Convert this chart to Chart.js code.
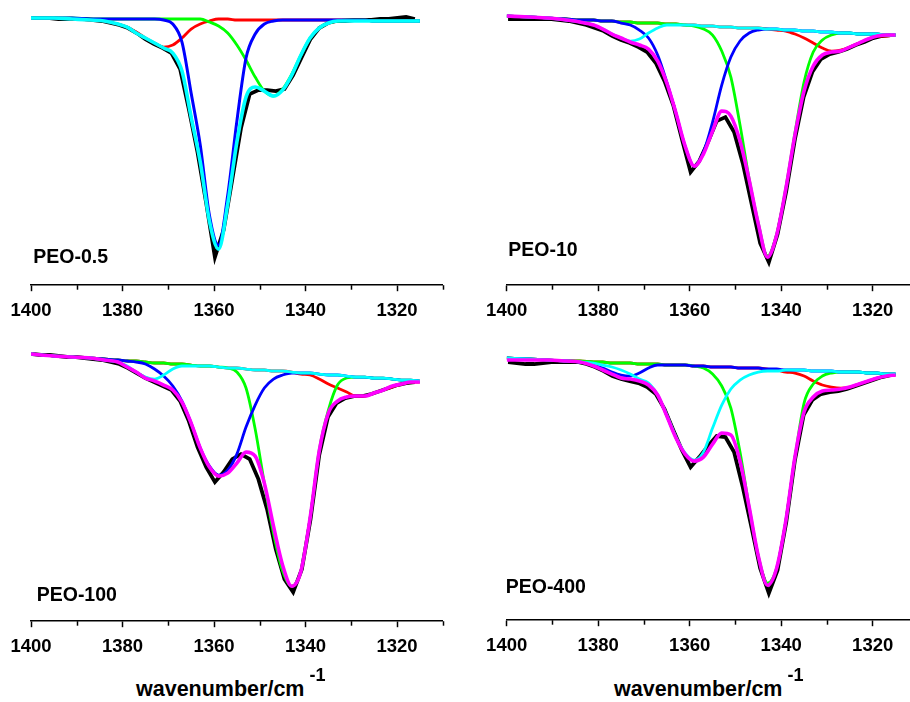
<!DOCTYPE html>
<html>
<head>
<meta charset="utf-8">
<title>PEO band deconvolution</title>
<script src="https://cdn.jsdelivr.net/npm/chart.js"></script>
<style>
  html, body { margin: 0; padding: 0; background: #fff; }
  #page { position: relative; width: 910px; height: 702px; overflow: hidden; }
  #page canvas { position: absolute; }
  .xtitle {
    position: absolute; top: 679px; color: #000; white-space: nowrap;
    font: bold 21.5px 'Liberation Sans', Arial, sans-serif; line-height: 21.5px;
  }
  .xtitle sup { font-size: 18px; vertical-align: baseline; position: relative; top: -15px; margin-left: 5px; }
</style>
</head>
<body>
<div id="page">
  <canvas id="peo05" width="476" height="331" style="left:0;top:0"></canvas>
  <canvas id="peo10" width="476" height="331" style="left:476px;top:0"></canvas>
  <canvas id="peo100" width="476" height="331" style="left:0;top:336px"></canvas>
  <canvas id="peo400" width="476" height="331" style="left:476px;top:335px"></canvas>
  <div class="xtitle" style="left:136px">wavenumber/cm<sup>-1</sup></div>
  <div class="xtitle" style="left:614px">wavenumber/cm<sup>-1</sup></div>
</div>
<script>
// wavenumbers (cm-1) of the fitted curves and of the measured spectrum
const fitWavenumber = [1400, 1395, 1391, 1387, 1384, 1381, 1379, 1377, 1375, 1373, 1371, 1369, 1367, 1365, 1363,
  1361, 1359, 1357, 1355, 1353, 1351, 1349, 1347, 1345, 1343, 1341, 1339, 1337, 1335, 1333, 1331, 1329, 1327,
  1325, 1323, 1321, 1319, 1317, 1315];
const dataWavenumber = [1399.7, 1397.8, 1395.9, 1394.0, 1392.1, 1390.2, 1388.3, 1386.4, 1384.5, 1382.6, 1380.7,
  1378.8, 1376.9, 1375.0, 1373.1, 1371.2, 1369.3, 1367.4, 1365.5, 1363.6, 1361.7, 1359.8, 1357.9, 1356.0, 1354.1,
  1352.2, 1350.3, 1348.4, 1346.5, 1344.6, 1342.7, 1340.8, 1338.9, 1337.0, 1335.1, 1333.2, 1331.3, 1329.4, 1327.5,
  1325.6, 1323.7, 1321.8, 1319.9, 1318.0, 1316.1];

const majorTicks = [1400, 1380, 1360, 1340, 1320];
const minorTicks = [1390, 1370, 1350, 1330, 1310];

// PEO-0.5
const peo05Data = [2.67, 2.67, 2.67, 2.66, 2.66, 2.66, 2.66, 2.65, 2.64, 2.62, 2.60, 2.57, 2.52, 2.46, 2.41, 2.37,
  2.32, 2.16, 1.76, 1.33, 0.82, 0.28, 0.55, 1.06, 1.57, 1.91, 1.95, 1.95, 1.94, 1.96, 2.10, 2.28, 2.46, 2.57, 2.62,
  2.64, 2.64, 2.65, 2.65, 2.65, 2.66, 2.66, 2.67, 2.68, 2.66];
const peo05Fit = [2.67, 2.67, 2.66, 2.65, 2.64, 2.61, 2.58, 2.52, 2.47, 2.42, 2.37, 2.32, 2.14, 1.68, 1.23, 0.64,
  0.36, 0.81, 1.43, 1.88, 1.98, 1.94, 1.89, 1.95, 2.10, 2.30, 2.47, 2.57, 2.62, 2.64, 2.64, 2.64, 2.64, 2.64, 2.64,
  2.64, 2.64, 2.64, 2.64];
const peo05Red = [2.67, 2.67, 2.66, 2.65, 2.64, 2.61, 2.58, 2.53, 2.47, 2.42, 2.38, 2.40, 2.47, 2.56, 2.61, 2.64,
  2.66, 2.66, 2.65, 2.65, 2.65, 2.65, 2.65, 2.65, 2.65, 2.65, 2.65, 2.65, 2.65, 2.65, 2.65, 2.65, 2.65, 2.64, 2.64,
  2.64, 2.64, 2.64, 2.64];
const peo05Blue = [2.67, 2.67, 2.67, 2.66, 2.66, 2.66, 2.66, 2.66, 2.66, 2.66, 2.65, 2.61, 2.43, 1.92, 1.40, 0.70,
  0.40, 0.90, 1.64, 2.27, 2.51, 2.61, 2.64, 2.65, 2.65, 2.65, 2.65, 2.65, 2.65, 2.65, 2.65, 2.65, 2.65, 2.64, 2.64,
  2.64, 2.64, 2.64, 2.64];
const peo05Green = [2.67, 2.67, 2.67, 2.66, 2.66, 2.66, 2.66, 2.66, 2.66, 2.66, 2.66, 2.66, 2.66, 2.66, 2.66, 2.63,
  2.59, 2.52, 2.40, 2.25, 2.08, 1.94, 1.89, 1.96, 2.11, 2.30, 2.47, 2.57, 2.62, 2.64, 2.65, 2.65, 2.65, 2.64, 2.64,
  2.64, 2.64, 2.64, 2.64];

// PEO-10
const peo10Data = [2.66, 2.66, 2.66, 2.66, 2.66, 2.66, 2.65, 2.64, 2.62, 2.60, 2.57, 2.54, 2.49, 2.45, 2.42, 2.38,
  2.33, 2.22, 2.04, 1.80, 1.46, 1.13, 1.24, 1.43, 1.64, 1.68, 1.53, 1.22, 0.82, 0.42, 0.23, 0.51, 0.94, 1.46, 1.88,
  2.13, 2.26, 2.31, 2.33, 2.36, 2.40, 2.43, 2.47, 2.49, 2.50];
const peo10Fit = [2.69, 2.68, 2.67, 2.65, 2.63, 2.60, 2.56, 2.51, 2.47, 2.43, 2.40, 2.36, 2.24, 2.02, 1.72, 1.39,
  1.19, 1.31, 1.54, 1.74, 1.69, 1.44, 1.05, 0.61, 0.28, 0.50, 0.96, 1.50, 1.94, 2.19, 2.30, 2.33, 2.34, 2.38, 2.42,
  2.46, 2.49, 2.50, 2.50];
const peo10Cyan = [2.69, 2.68, 2.67, 2.65, 2.63, 2.60, 2.56, 2.51, 2.47, 2.44, 2.46, 2.52, 2.57, 2.60, 2.60, 2.60,
  2.60, 2.59, 2.59, 2.58, 2.58, 2.57, 2.57, 2.57, 2.56, 2.56, 2.55, 2.55, 2.54, 2.54, 2.53, 2.53, 2.52, 2.52, 2.51,
  2.51, 2.51, 2.50, 2.50];
const peo10Blue = [2.69, 2.68, 2.67, 2.66, 2.65, 2.65, 2.64, 2.64, 2.62, 2.60, 2.55, 2.47, 2.30, 2.03, 1.72, 1.39,
  1.19, 1.33, 1.63, 2.00, 2.28, 2.44, 2.52, 2.55, 2.56, 2.56, 2.55, 2.55, 2.54, 2.54, 2.53, 2.53, 2.52, 2.52, 2.51,
  2.51, 2.51, 2.50, 2.50];
const peo10Green = [2.69, 2.68, 2.67, 2.66, 2.65, 2.65, 2.64, 2.64, 2.63, 2.63, 2.62, 2.62, 2.62, 2.61, 2.61, 2.60,
  2.59, 2.56, 2.50, 2.34, 2.08, 1.60, 1.06, 0.62, 0.29, 0.51, 0.97, 1.52, 2.03, 2.33, 2.45, 2.50, 2.52, 2.52, 2.51,
  2.51, 2.51, 2.50, 2.50];
const peo10Red = [2.69, 2.68, 2.67, 2.66, 2.65, 2.65, 2.64, 2.64, 2.63, 2.63, 2.62, 2.62, 2.62, 2.61, 2.61, 2.60,
  2.60, 2.59, 2.59, 2.58, 2.58, 2.57, 2.57, 2.57, 2.56, 2.55, 2.54, 2.51, 2.47, 2.42, 2.37, 2.34, 2.35, 2.38, 2.42,
  2.46, 2.49, 2.49, 2.50];

// PEO-100
const peo100Data = [2.67, 2.66, 2.66, 2.65, 2.64, 2.64, 2.63, 2.62, 2.61, 2.59, 2.57, 2.53, 2.48, 2.43, 2.39, 2.35,
  2.31, 2.20, 2.00, 1.74, 1.54, 1.39, 1.49, 1.62, 1.67, 1.62, 1.42, 1.12, 0.72, 0.42, 0.29, 0.52, 1.02, 1.66, 2.04,
  2.18, 2.23, 2.25, 2.25, 2.27, 2.30, 2.33, 2.36, 2.38, 2.39];
const peo100Fit = [2.67, 2.65, 2.64, 2.63, 2.61, 2.59, 2.54, 2.49, 2.43, 2.40, 2.36, 2.31, 2.19, 1.98, 1.73, 1.54,
  1.45, 1.48, 1.58, 1.69, 1.65, 1.38, 0.95, 0.56, 0.35, 0.50, 1.03, 1.70, 2.08, 2.20, 2.24, 2.25, 2.25, 2.28, 2.31,
  2.35, 2.37, 2.39, 2.39];
const peo100Cyan = [2.67, 2.65, 2.64, 2.63, 2.61, 2.59, 2.55, 2.49, 2.44, 2.42, 2.46, 2.52, 2.55, 2.55, 2.55, 2.55,
  2.54, 2.53, 2.53, 2.52, 2.51, 2.51, 2.50, 2.50, 2.49, 2.48, 2.48, 2.47, 2.46, 2.46, 2.45, 2.44, 2.44, 2.43, 2.43,
  2.42, 2.41, 2.41, 2.40];
const peo100Blue = [2.67, 2.65, 2.64, 2.63, 2.62, 2.61, 2.60, 2.59, 2.57, 2.52, 2.45, 2.35, 2.20, 1.98, 1.73, 1.55,
  1.46, 1.51, 1.67, 1.94, 2.16, 2.33, 2.42, 2.46, 2.48, 2.48, 2.48, 2.47, 2.46, 2.46, 2.45, 2.44, 2.44, 2.43, 2.43,
  2.42, 2.41, 2.41, 2.40];
const peo100Green = [2.67, 2.65, 2.64, 2.63, 2.62, 2.61, 2.60, 2.60, 2.59, 2.58, 2.58, 2.57, 2.57, 2.56, 2.55, 2.55,
  2.54, 2.53, 2.49, 2.33, 1.92, 1.38, 0.88, 0.50, 0.35, 0.50, 1.03, 1.71, 2.11, 2.36, 2.43, 2.44, 2.44, 2.43, 2.43,
  2.42, 2.41, 2.41, 2.40];
const peo100Red = [2.67, 2.65, 2.64, 2.63, 2.62, 2.61, 2.60, 2.60, 2.59, 2.58, 2.58, 2.57, 2.57, 2.56, 2.55, 2.55,
  2.54, 2.53, 2.53, 2.52, 2.51, 2.51, 2.50, 2.50, 2.49, 2.47, 2.46, 2.42, 2.37, 2.33, 2.29, 2.25, 2.25, 2.28, 2.31,
  2.34, 2.37, 2.39, 2.39];

// PEO-400
const peo400Data = [2.58, 2.57, 2.56, 2.56, 2.57, 2.58, 2.58, 2.58, 2.58, 2.56, 2.53, 2.49, 2.44, 2.41, 2.39, 2.37,
  2.33, 2.26, 2.11, 1.90, 1.70, 1.53, 1.63, 1.74, 1.84, 1.83, 1.68, 1.33, 0.93, 0.52, 0.27, 0.50, 0.98, 1.60, 2.05,
  2.20, 2.26, 2.28, 2.29, 2.31, 2.34, 2.37, 2.40, 2.43, 2.45];
const peo400Fit = [2.60, 2.60, 2.60, 2.59, 2.58, 2.54, 2.50, 2.46, 2.42, 2.41, 2.39, 2.35, 2.25, 2.04, 1.82, 1.66,
  1.59, 1.63, 1.76, 1.87, 1.85, 1.59, 1.13, 0.64, 0.35, 0.52, 0.99, 1.63, 2.08, 2.23, 2.29, 2.30, 2.31, 2.33, 2.36,
  2.39, 2.42, 2.44, 2.45];
const peo400Cyan = [2.62, 2.61, 2.60, 2.59, 2.58, 2.57, 2.55, 2.53, 2.50, 2.46, 2.41, 2.37, 2.25, 2.05, 1.83, 1.67,
  1.60, 1.68, 1.92, 2.15, 2.31, 2.40, 2.45, 2.48, 2.49, 2.49, 2.50, 2.50, 2.50, 2.49, 2.49, 2.49, 2.48, 2.48, 2.48,
  2.47, 2.47, 2.46, 2.46];
const peo400Blue = [2.62, 2.61, 2.60, 2.59, 2.58, 2.55, 2.52, 2.48, 2.45, 2.44, 2.47, 2.52, 2.55, 2.55, 2.55, 2.55,
  2.54, 2.54, 2.53, 2.53, 2.53, 2.52, 2.52, 2.52, 2.51, 2.51, 2.50, 2.50, 2.50, 2.49, 2.49, 2.49, 2.48, 2.48, 2.48,
  2.47, 2.47, 2.46, 2.46];
const peo400Green = [2.62, 2.61, 2.60, 2.59, 2.59, 2.58, 2.58, 2.57, 2.57, 2.57, 2.56, 2.56, 2.56, 2.55, 2.55, 2.55,
  2.54, 2.52, 2.46, 2.34, 2.12, 1.68, 1.13, 0.64, 0.37, 0.52, 0.99, 1.62, 2.17, 2.36, 2.44, 2.47, 2.48, 2.48, 2.48,
  2.47, 2.47, 2.46, 2.46];
const peo400Red = [2.62, 2.61, 2.60, 2.59, 2.59, 2.58, 2.58, 2.57, 2.57, 2.57, 2.56, 2.56, 2.56, 2.55, 2.55, 2.55,
  2.54, 2.54, 2.53, 2.53, 2.53, 2.52, 2.52, 2.52, 2.51, 2.50, 2.48, 2.47, 2.44, 2.39, 2.35, 2.33, 2.32, 2.33, 2.36,
  2.39, 2.42, 2.44, 2.45];

const FONT = "'Liberation Sans', Arial, sans-serif";
const RED = '#ff0000', GREEN = '#00ff00', BLUE = '#0000ff', CYAN = '#00ffff', MAGENTA = '#ff00ff';

Chart.defaults.font.family = FONT;
Chart.defaults.color = '#000';

function points(xs, ys) {
    return xs.map((x, i) => ({ x: x, y: ys[i] }));
}

// smooth fitted band / envelope
function band(label, ys, color, width) {
    return {
        label: label,
        data: points(fitWavenumber, ys),
        borderColor: color,
        borderWidth: width || 2.8,
        pointRadius: 0,
        fill: false,
        cubicInterpolationMode: "monotone"
    };
}

// measured spectrum, straight segments between points
function measured(ys) {
    return {
        label: "measured",
        data: points(dataWavenumber, ys),
        borderColor: "#000",
        borderWidth: 3.8,
        pointRadius: 0,
        fill: false,
        tension: 0
    };
}

// short unlabelled ticks halfway between the labelled ones
const minorTickPlugin = {
    id: "minorTicks",
    afterDraw(chart) {
        const scale = chart.scales.x;
        const ctx = chart.ctx;
        ctx.save();
        ctx.strokeStyle = "#000";
        ctx.lineWidth = 1.5;
        minorTicks.forEach((v) => {
            const px = Math.round(scale.getPixelForValue(v)) + 0.5;
            ctx.beginPath();
            ctx.moveTo(px, scale.top);
            ctx.lineTo(px, scale.top + 4.5);
            ctx.stroke();
        });
        ctx.restore();
    }
};

// sample name in the lower left corner of each panel
const sampleNamePlugin = {
    id: "sampleName",
    afterDraw(chart, args, opts) {
        const area = chart.chartArea;
        const ctx = chart.ctx;
        ctx.save();
        ctx.font = "bold 19.5px " + FONT;
        ctx.fillStyle = "#000";
        ctx.textBaseline = "alphabetic";
        ctx.fillText(opts.text, area.left + opts.dx, area.bottom - opts.dy);
        ctx.restore();
    }
};

function drawPanel(canvasId, name, labelPos, padLeft, datasets) {
    const ctx = document.getElementById(canvasId).getContext("2d");
    new Chart(ctx, {
        type: "line",
        data: { datasets: datasets },
        options: {
            responsive: false,
            animation: false,
            devicePixelRatio: 1,
            events: [],
            layout: { padding: { left: padLeft, right: 476 - padLeft - 411.75, top: 5, bottom: 0 } },
            plugins: {
                legend: { display: false },
                tooltip: { enabled: false },
                sampleName: { text: name, dx: labelPos[0], dy: labelPos[1] }
            },
            scales: {
                x: {
                    type: "linear",
                    reverse: true,
                    min: 1310,
                    max: 1400,
                    afterBuildTicks: (scale) => {
                        scale.ticks = majorTicks.map((v) => ({ value: v }));
                    },
                    ticks: {
                        callback: (v) => String(v),
                        font: { size: 18.5, weight: "bold" },
                        color: "#000",
                        padding: 8.8,
                        maxRotation: 0,
                        autoSkip: false
                    },
                    grid: {
                        drawOnChartArea: false,
                        drawTicks: true,
                        tickLength: 6,
                        tickWidth: 1.5,
                        tickColor: "#000"
                    },
                    border: { display: true, color: "#000", width: 1.5 }
                },
                y: { display: false, min: 0, max: 2.8 }
            }
        },
        plugins: [minorTickPlugin, sampleNamePlugin]
    });
}

// first dataset is painted last, so the envelope sits on top
drawPanel("peo05", "PEO-0.5", [2.3, 22.5], 31, [
    band("fit", peo05Fit, CYAN, 3.6),
    band("1360", peo05Blue, BLUE, 3),
    band("1347", peo05Green, GREEN),
    band("1370", peo05Red, RED),
    measured(peo05Data)
]);

drawPanel("peo10", "PEO-10", [1.6, 29], 30.7, [
    band("fit", peo10Fit, MAGENTA, 3.6),
    band("1373", peo10Cyan, CYAN),
    band("1359", peo10Blue, BLUE),
    band("1343", peo10Green, GREEN),
    band("1328", peo10Red, RED),
    measured(peo10Data)
]);

drawPanel("peo100", "PEO-100", [5.7, 20], 31, [
    band("fit", peo100Fit, MAGENTA, 3.6),
    band("1373", peo100Cyan, CYAN),
    band("1359", peo100Blue, BLUE),
    band("1343", peo100Green, GREEN),
    band("1328", peo100Red, RED),
    measured(peo100Data)
]);

drawPanel("peo400", "PEO-400", [-1, 27.5], 30.7, [
    band("fit", peo400Fit, MAGENTA, 3.6),
    band("1359", peo400Cyan, CYAN),
    band("1373", peo400Blue, BLUE),
    band("1343", peo400Green, GREEN),
    band("1328", peo400Red, RED),
    measured(peo400Data)
]);
</script>
</body>
</html>
